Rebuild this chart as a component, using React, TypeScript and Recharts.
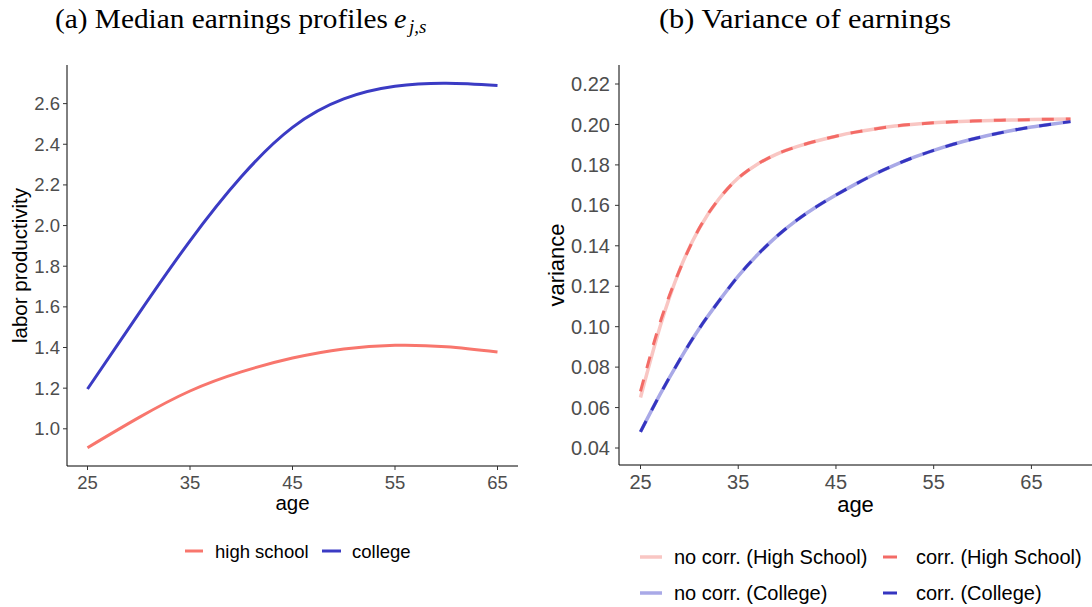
import React from 'react';
import { LineChart, Line, XAxis, YAxis } from 'recharts';

// (a) median earnings profiles
const earnAges = [25, 30, 35, 40, 45, 50, 55, 60, 65];
const highSchool = [0.907, 1.055, 1.186, 1.28, 1.348, 1.393, 1.411, 1.404, 1.378];
const college = [1.196, 1.567, 1.925, 2.24, 2.483, 2.623, 2.685, 2.7, 2.689];
const earnTicksX = [25, 35, 45, 55, 65];
const earnTicksY = [1.0, 1.2, 1.4, 1.6, 1.8, 2.0, 2.2, 2.4, 2.6];

// (b) variance of earnings
const varAges = [25, 27, 29, 31, 33, 35, 37, 39, 41, 43, 45, 47, 49, 51, 53, 55, 57, 59, 61, 63, 65, 67, 69];
const noCorrHS = [0.065, 0.1, 0.128, 0.1485, 0.163, 0.1735, 0.1805, 0.1855, 0.189, 0.1918, 0.1942, 0.1962, 0.1978, 0.1992, 0.2001, 0.2008, 0.2013, 0.2017, 0.202, 0.2022, 0.2024, 0.2026, 0.2027];
const corrHS = [0.068, 0.102, 0.128, 0.1485, 0.163, 0.1735, 0.1805, 0.1855, 0.189, 0.1918, 0.1942, 0.1962, 0.1978, 0.1992, 0.2001, 0.2008, 0.2013, 0.2017, 0.202, 0.2022, 0.2024, 0.2026, 0.2027];
const noCorrCol = [0.048, 0.0665, 0.0835, 0.099, 0.1125, 0.125, 0.1357, 0.1449, 0.1527, 0.1593, 0.1651, 0.1705, 0.1755, 0.1799, 0.1838, 0.1872, 0.1902, 0.1928, 0.195, 0.197, 0.1987, 0.2001, 0.2014];
const corrCol = [0.048, 0.0665, 0.0835, 0.099, 0.1125, 0.125, 0.1357, 0.1449, 0.1527, 0.1593, 0.1651, 0.1705, 0.1755, 0.1799, 0.1838, 0.1872, 0.1902, 0.1928, 0.195, 0.197, 0.1987, 0.2001, 0.2014];
const varTicksX = [25, 35, 45, 55, 65];
const varTicksY = [0.04, 0.06, 0.08, 0.1, 0.12, 0.14, 0.16, 0.18, 0.2, 0.22];

const earnData = earnAges.map((age, i) => ({ age, hs: highSchool[i], col: college[i] }));
const varData = varAges.map((age, i) => ({
  age,
  noCorrHS: noCorrHS[i],
  corrHS: corrHS[i],
  noCorrCol: noCorrCol[i],
  corrCol: corrCol[i],
}));

const SANS = '"Liberation Sans", Arial, Helvetica, sans-serif';
const SERIF = '"Liberation Serif", "DejaVu Serif", serif';

const RED = '#F8766D';
const BLUE = '#3B3BC4';
const PINK = '#F9C6C3';
const LAVENDER = '#A9A9E7';
const RED_D = '#F36B66';
const BLUE_D = '#3535C0';

const axisLine = { stroke: '#000', strokeWidth: 1 };
const tickLine = { stroke: '#333', strokeWidth: 1 };

const App: React.FC = () => {
  const leftTick = { fill: '#4d4d4d', fontSize: 18.5, fontFamily: SANS };
  const rightTick = { fill: '#4d4d4d', fontSize: 20, fontFamily: SANS };

  return (
    <div style={{ position: 'absolute', left: 0, top: 0, width: 1092, height: 607, background: '#fff', overflow: 'hidden' }}>
      <div style={{ position: 'absolute', left: 0, top: 0 }}>
        <LineChart width={546} height={607} data={earnData} margin={{ top: 65, right: 28, bottom: 81, left: 0 }}>
          <XAxis
            dataKey="age"
            type="number"
            domain={[23, 67]}
            ticks={earnTicksX}
            interval={0}
            height={60}
            tickSize={4}
            tickMargin={6}
            axisLine={axisLine}
            tickLine={tickLine}
            tick={leftTick}
            label={{ value: 'age', position: 'insideBottom', offset: 16, style: { fill: '#000', fontSize: 20.5, fontFamily: SANS } }}
          />
          <YAxis
            type="number"
            domain={[0.817, 2.79]}
            ticks={earnTicksY}
            interval={0}
            width={67}
            tickSize={4}
            tickMargin={3}
            axisLine={axisLine}
            tickLine={tickLine}
            tick={leftTick}
            tickFormatter={(v: number) => v.toFixed(1)}
            label={{ value: 'labor productivity', angle: -90, position: 'insideLeft', offset: 20, style: { textAnchor: 'middle', fill: '#000', fontSize: 20.5, fontFamily: SANS } }}
          />
          <Line type="natural" dataKey="hs" name="high school" stroke={RED} strokeWidth={3} dot={false} isAnimationActive={false} />
          <Line type="natural" dataKey="col" name="college" stroke={BLUE} strokeWidth={3} dot={false} isAnimationActive={false} />
        </LineChart>
      </div>

      <div style={{ position: 'absolute', left: 526, top: 0 }}>
        <LineChart width={566} height={607} data={varData} margin={{ top: 65, right: 0, bottom: 82, left: 0 }}>
          <XAxis
            dataKey="age"
            type="number"
            domain={[22.8, 71.2]}
            ticks={varTicksX}
            interval={0}
            height={60}
            tickSize={4}
            tickMargin={6}
            axisLine={axisLine}
            tickLine={tickLine}
            tick={rightTick}
            label={{ value: 'age', position: 'insideBottom', offset: 13, style: { fill: '#000', fontSize: 22, fontFamily: SANS } }}
          />
          <YAxis
            type="number"
            domain={[0.0316, 0.2294]}
            ticks={varTicksY}
            interval={0}
            width={93}
            tickSize={4}
            tickMargin={5}
            axisLine={axisLine}
            tickLine={tickLine}
            tick={rightTick}
            tickFormatter={(v: number) => v.toFixed(2)}
            label={{ value: 'variance', angle: -90, position: 'insideLeft', offset: 30.5, style: { textAnchor: 'middle', fill: '#000', fontSize: 22, fontFamily: SANS } }}
          />
          <Line type="natural" dataKey="noCorrHS" stroke={PINK} strokeWidth={3.5} dot={false} isAnimationActive={false} />
          <Line type="natural" dataKey="noCorrCol" stroke={LAVENDER} strokeWidth={3.5} dot={false} isAnimationActive={false} />
          <Line type="natural" dataKey="corrHS" stroke={RED_D} strokeWidth={3} strokeDasharray="12 12" dot={false} isAnimationActive={false} />
          <Line type="natural" dataKey="corrCol" stroke={BLUE_D} strokeWidth={3} strokeDasharray="12 12" dot={false} isAnimationActive={false} />
        </LineChart>
      </div>

      {/* titles and legends */}
      <svg width={1092} height={607} style={{ position: 'absolute', left: 0, top: 0, pointerEvents: 'none' }}>
        <text x={55} y={28} fontFamily={SERIF} fontSize={28} fill="#000" textLength={333} lengthAdjust="spacingAndGlyphs">
          (a) Median earnings profiles
        </text>
        <text x={394} y={28} fontFamily={SERIF} fontSize={28} fontStyle="italic" fill="#000">e</text>
        <text x={409} y={33} fontFamily={SERIF} fontSize={19} fontStyle="italic" fill="#000">j,s</text>
        <text x={659} y={28} fontFamily={SERIF} fontSize={28} fill="#000" textLength={292} lengthAdjust="spacingAndGlyphs">
          (b) Variance of earnings
        </text>

        <g fontFamily={SANS} fill="#000">
          <line x1={185} x2={203} y1={551} y2={551} stroke={RED} strokeWidth={3} />
          <text x={215} y={551} fontSize={18.5} dominantBaseline="central">high school</text>
          <line x1={322} x2={341} y1={551} y2={551} stroke={BLUE} strokeWidth={3} />
          <text x={352} y={551} fontSize={18.5} dominantBaseline="central">college</text>

          <line x1={640} x2={662} y1={557} y2={557} stroke={PINK} strokeWidth={3.5} />
          <text x={674} y={557} fontSize={20} dominantBaseline="central">no corr. (High School)</text>
          <line x1={883} x2={897} y1={557} y2={557} stroke={RED_D} strokeWidth={3} />
          <text x={916} y={557} fontSize={20} dominantBaseline="central">corr. (High School)</text>

          <line x1={640} x2={662} y1={593} y2={593} stroke={LAVENDER} strokeWidth={3.5} />
          <text x={674} y={593} fontSize={20} dominantBaseline="central">no corr. (College)</text>
          <line x1={883} x2={897} y1={593} y2={593} stroke={BLUE_D} strokeWidth={3} />
          <text x={916} y={593} fontSize={20} dominantBaseline="central">corr. (College)</text>
        </g>
      </svg>
    </div>
  );
};

export default App;
